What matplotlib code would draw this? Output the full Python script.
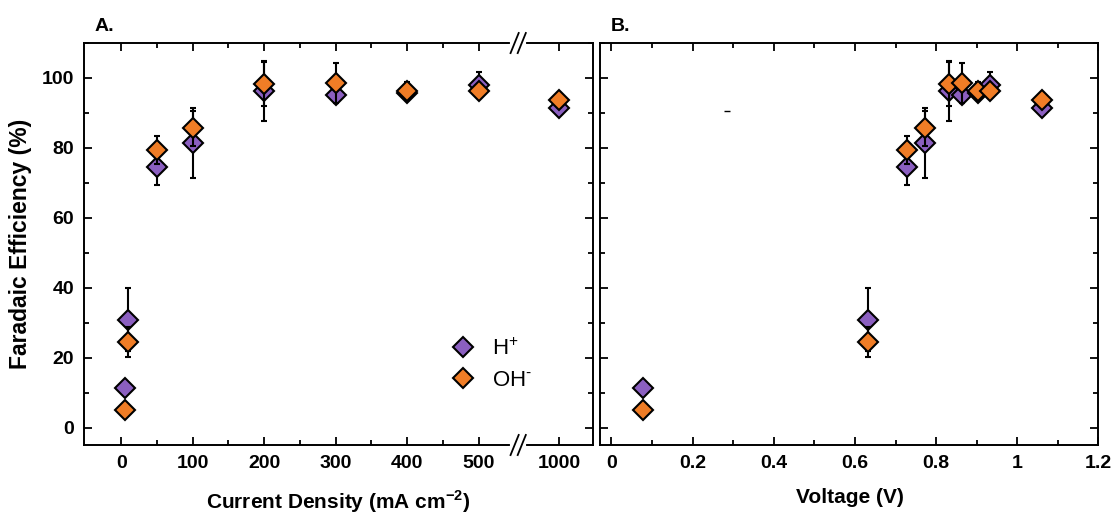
import numpy as np
import matplotlib
matplotlib.use("Agg")
import matplotlib.pyplot as plt
from matplotlib.ticker import FixedLocator, MultipleLocator, FuncFormatter
from matplotlib.lines import Line2D

plt.rcParams['font.family'] = ['Liberation Sans', 'DejaVu Sans']
plt.rcParams['mathtext.fontset'] = 'custom'
plt.rcParams['mathtext.rm'] = 'Liberation Sans'
plt.rcParams['mathtext.bf'] = 'Liberation Sans:bold'

# data
current_density = [5, 10, 50, 100, 200, 300, 400, 500, 1000]   # mA cm-2
voltage = [0.077, 0.633, 0.729, 0.773, 0.832, 0.864, 0.903, 0.933, 1.062]  # V
fe_h = [11.2, 30.8, 74.4, 81.4, 96.2, 95.2, 95.8, 98.0, 91.5]
fe_h_err = [1.5, 9.0, 5.0, 10.0, 8.5, 2.0, 2.0, 3.7, 1.5]
fe_oh = [5.0, 24.4, 79.4, 85.6, 98.4, 98.6, 96.3, 96.4, 93.6]
fe_oh_err = [1.5, 4.3, 4.0, 5.0, 6.5, 5.7, 2.5, 1.5, 2.0]
stray_v = [0.286]   # small stray mark in panel B
stray_fe = [90.6]

purple = '#8b5fc0'
orange = '#f07d26'

# broken x axis: 500 -> 1000 squeezed
def fwd(x):
    x = np.asarray(x, dtype=float)
    return np.where(x <= 500, x, np.where(x <= 1000, 500 + (x - 500) * 0.226, 613 + (x - 1000)))

def inv(y):
    y = np.asarray(y, dtype=float)
    return np.where(y <= 500, y, np.where(y <= 613, 500 + (y - 500) / 0.226, 1000 + (y - 613)))

fig = plt.figure(figsize=(11.13, 5.16), dpi=100)
axA = fig.add_axes([0.0755, 0.1376, 0.4573, 0.779])
axB = fig.add_axes([0.5395, 0.1376, 0.4474, 0.779])

def draw(ax, x):
    ax.errorbar(x, fe_h, yerr=fe_h_err, fmt='D', ms=10, mfc=purple, mec='black', mew=1.5,
                ecolor='black', elinewidth=1.5, capsize=2.5, capthick=1.5, zorder=3)
    ax.errorbar(x, fe_oh, yerr=fe_oh_err, fmt='D', ms=10, mfc=orange, mec='black', mew=1.5,
                ecolor='black', elinewidth=1.5, capsize=2.5, capthick=1.5, zorder=4)
    ax.set_ylim(-5, 110)
    ax.yaxis.set_major_locator(MultipleLocator(20))
    ax.yaxis.set_minor_locator(MultipleLocator(10))
    ax.tick_params(which='both', direction='in', top=True, right=True, width=1.3)
    ax.tick_params(which='major', length=6, labelsize=14, pad=7)
    ax.tick_params(which='minor', length=3.5)
    for s in ax.spines.values():
        s.set_linewidth(1.4)
    for lab in ax.get_xticklabels() + ax.get_yticklabels():
        lab.set_fontweight('bold')

# panel A
axA.set_xscale('function', functions=(fwd, inv))
axA.set_xlim(-52, 1047)
axA.xaxis.set_major_locator(FixedLocator([0, 100, 200, 300, 400, 500, 1000]))
axA.xaxis.set_minor_locator(FixedLocator([50, 150, 250, 350, 450]))
axA.xaxis.set_major_formatter(FuncFormatter(lambda v, p: '%d' % round(v)))
draw(axA, current_density)
axA.set_ylabel('Faradaic Efficiency (%)', fontsize=16.5, fontweight='bold', labelpad=7)
axA.set_xlabel('Current Density (mA cm$^{\\mathbf{-2}}$)', fontsize=15, fontweight='bold', labelpad=12)
axA.text(0.02, 1.02, 'A.', transform=axA.transAxes, fontsize=14, fontweight='bold', va='bottom')

# axis break marks
xb = 0.853
for yb in (0, 1):
    axA.plot([xb - 0.012, xb + 0.012], [yb, yb], color='white', lw=3, transform=axA.transAxes,
             clip_on=False, zorder=5)
    for dx in (-0.007, 0.007):
        axA.plot([xb + dx - 0.008, xb + dx + 0.008], [yb - 0.025, yb + 0.025], color='black', lw=1.3,
                 transform=axA.transAxes, clip_on=False, zorder=6)

handles = [Line2D([], [], ls='none', marker='D', ms=10, mfc=purple, mec='black', mew=1.5),
           Line2D([], [], ls='none', marker='D', ms=10, mfc=orange, mec='black', mew=1.5)]
axA.legend(handles, ['H$^{+}$', 'OH$^{\\text{-}}$'], loc='center left', bbox_to_anchor=(0.68, 0.2),
           frameon=False, fontsize=16, handlelength=1.2, handletextpad=0.7, labelspacing=0.45)

# panel B
draw(axB, voltage)
axB.plot(stray_v, stray_fe, marker='_', ms=4, color='black', ls='none', mew=1)
axB.set_xlim(-0.027, 1.2)
axB.xaxis.set_major_locator(MultipleLocator(0.2))
axB.xaxis.set_minor_locator(MultipleLocator(0.1))
axB.xaxis.set_major_formatter(FuncFormatter(lambda v, p: '%g' % round(v, 2)))
for lab in axB.get_xticklabels():
    lab.set_fontweight('bold')
axB.tick_params(labelleft=False)
axB.set_xlabel('Voltage (V)', fontsize=15, fontweight='bold', labelpad=12)
axB.text(0.02, 1.02, 'B.', transform=axB.transAxes, fontsize=14, fontweight='bold', va='bottom')

fig.savefig('out.png', dpi=100)
